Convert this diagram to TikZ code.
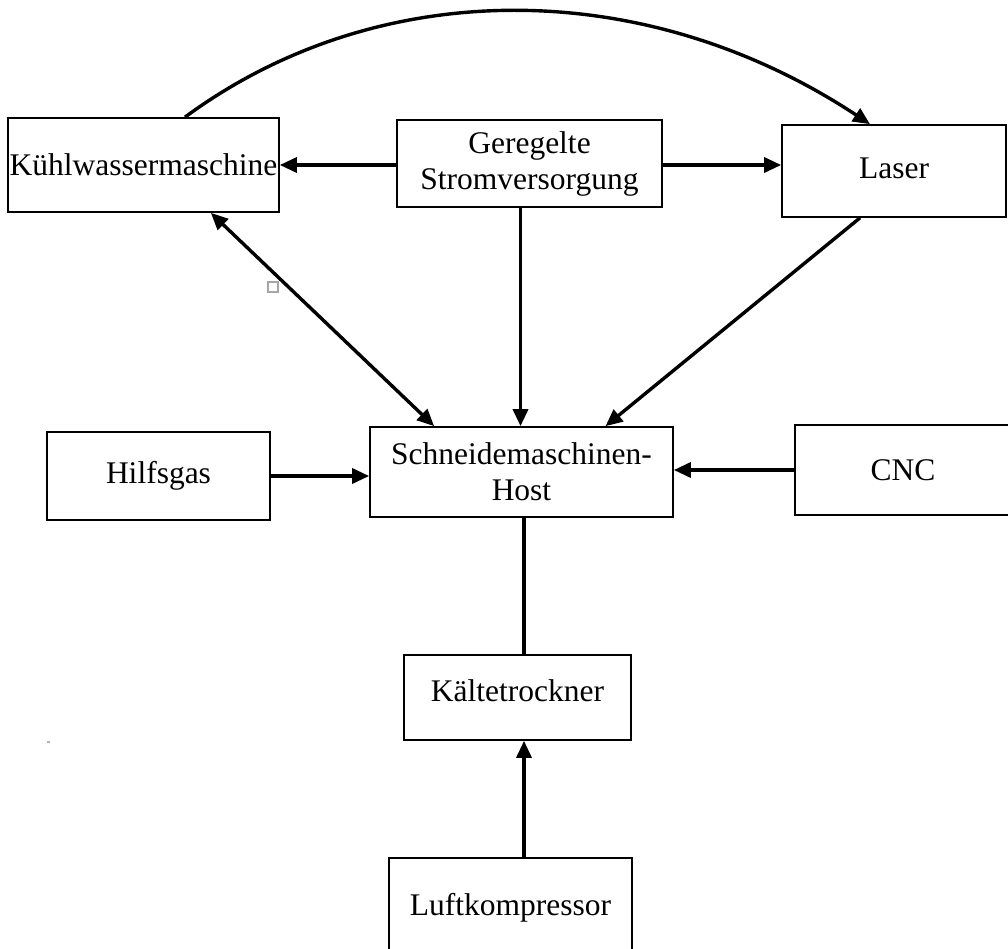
\documentclass[tikz,border=0pt]{standalone}
\usepackage{fontspec}
\setmainfont{Liberation Serif}
\usetikzlibrary{arrows.meta,positioning}

\begin{document}
\begin{tikzpicture}[x=1pt, y=-1pt,
      unit/.style={draw=black, line width=1.7pt, align=center, inner sep=0pt,
        font=\fontsize{31.5}{36}\selectfont},
      arr/.style={-{Triangle[length=17pt,width=15pt]}, line width=3.4pt},
      both/.style={{Triangle[length=17pt,width=15pt]}-{Triangle[length=17pt,width=15pt]}, line width=3.4pt},
      link/.style={line width=3.4pt}]
    \useasboundingbox (0,0) rectangle (1008,949);
    \clip (0,0) rectangle (1008,949);
    % first row
    \node[unit, minimum width=271pt, minimum height=94pt] (kuehl) at (143.5,165) {Kühlwassermaschine};
    \node[unit, minimum width=265pt, minimum height=87pt] (strom) at (529.5,163.5) {Geregelte\\Stromversorgung};
    \node[unit, minimum width=224pt, minimum height=92pt, text depth=6pt] (laser) at (894,171) {Laser};
    % middle row
    \node[unit, minimum width=303pt, minimum height=90pt] (host) at (521.5,472) {Schneidemaschinen-\\Host};
    \node[unit, minimum width=223pt, minimum height=88pt] (gas) at (158.5,476) {Hilfsgas};
    \node[unit, minimum width=216pt, minimum height=90pt] (cnc) at (903,470) {CNC};
    % air supply
    \node[unit, minimum width=227pt, minimum height=85pt, text depth=14pt] (trockner) at (517.5,697.5) {Kältetrockner};
    \node[unit, minimum width=243pt, minimum height=94pt, text height=28pt] (kompr) at (510.5,905) {Luftkompressor};
    % connectors
    \draw[arr] ([xshift=41.5pt]kuehl.north) .. controls (378,-25) and (644,-25) .. ([xshift=-24pt]laser.north);
    \draw[arr] (strom.west |- kuehl.east) -- (kuehl.east);
    \draw[arr] (strom.east |- kuehl.east) -- (laser.west |- kuehl.east);
    \draw[arr] ([xshift=-9pt]strom.south) -- ([xshift=-9pt]strom.south |- host.north);
    \draw[both] ([xshift=-69pt]kuehl.south east) -- ([xshift=65pt]host.north west);
    \draw[arr] ([xshift=-34pt]laser.south) -- ([xshift=84pt]host.north);
    \draw[arr] (gas.east) -- (gas.east -| host.west);
    \draw[arr] (cnc.west) -- (cnc.west -| host.east);
    \draw[link] ([xshift=2.5pt]host.south) -- ([xshift=2.5pt]host.south |- trockner.north);
    \draw[arr] ([xshift=13.5pt]kompr.north) -- ([xshift=13.5pt]kompr.north |- trockner.south);
    % stray marks
    \draw[gray!70, line width=1.2pt] (268,282) rectangle (278,292);
    \fill[gray!60] (47,741) rectangle (50,743);
\end{tikzpicture}
\end{document}
